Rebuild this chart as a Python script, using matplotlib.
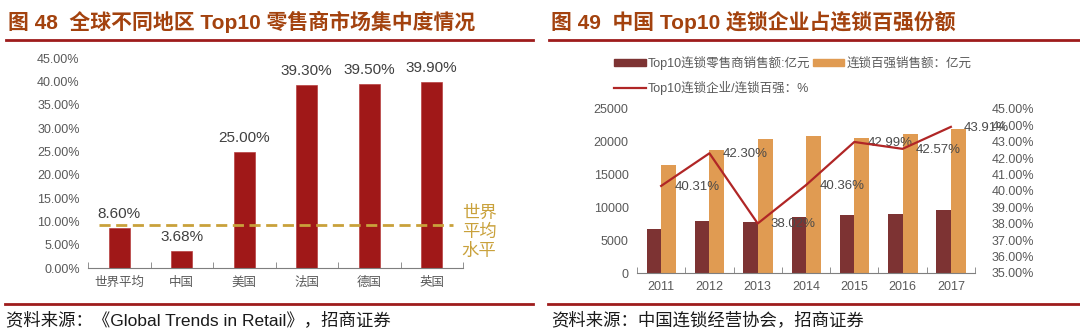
import numpy as np
import matplotlib
matplotlib.use('Agg')
import matplotlib.pyplot as plt
from matplotlib.lines import Line2D
from matplotlib.patches import Patch

plt.rcParams['font.family'] = ['Liberation Sans', 'Noto Sans CJK SC']
plt.rcParams['axes.unicode_minus'] = False

# 图48 全球不同地区 Top10 零售商市场集中度
regions = ['世界平均', '中国', '美国', '法国', '德国', '英国']
share_top10 = [8.60, 3.68, 25.00, 39.30, 39.50, 39.90]
world_avg_line = 9.3

# 图49 中国 Top10 连锁企业占连锁百强份额
years = ['2011', '2012', '2013', '2014', '2015', '2016', '2017']
top10_sales = [6660, 7920, 7770, 8490, 8840, 8950, 9650]
top100_sales = [16460, 18700, 20380, 20930, 20620, 21180, 21900]
top10_ratio = [40.31, 42.30, 38.02, 40.36, 42.99, 42.57, 43.91]

W, H = 1080, 336
TICK_C = '#595959'
LABEL_C = '#404040'
TITLE_C = '#A3420E'
RULE_C = '#9E1C1C'

fig = plt.figure(figsize=(W / 100, H / 100), dpi=100)


def px_axes(x0, y0, x1, y1):
    return fig.add_axes([x0 / W, 1 - y1 / H, (x1 - x0) / W, (y1 - y0) / H])


def hline(x0, x1, y, lw=2):
    fig.add_artist(Line2D([x0 / W, x1 / W], [1 - y / H, 1 - y / H], color=RULE_C, lw=lw))


def style_axis(ax, n):
    for s in ['top', 'right', 'left']:
        ax.spines[s].set_visible(False)
    ax.spines['bottom'].set_color('#7f7f7f')
    ax.set_xlim(-0.5, n - 0.5)
    ax.set_xticks(np.arange(n))
    ax.set_xticks(np.arange(n + 1) - 0.5, minor=True)
    ax.tick_params(axis='x', which='major', length=0, colors=TICK_C, labelsize=9, pad=6)
    ax.tick_params(axis='x', which='minor', direction='in', length=4, color='#7f7f7f')
    ax.tick_params(axis='y', length=0, colors=TICK_C, labelsize=9, pad=6)


# ---- left: 图48 ----
fig.text(8 / W, 1 - 22 / H, '图 48  全球不同地区 Top10 零售商市场集中度情况',
         fontsize=15, fontweight='bold', color=TITLE_C, va='center', ha='left')
hline(6, 533, 40)

ax1 = px_axes(88, 58.3, 463, 268.3)
x1 = np.arange(len(regions))
ax1.bar(x1, share_top10, width=0.34, color='#A01818', edgecolor='#B84040', lw=0.5, zorder=2)
for xi, v in zip(x1, share_top10):
    ax1.annotate(f'{v:.2f}%', (xi, v), xytext=(0, 5), textcoords='offset points',
                 ha='center', va='bottom', fontsize=11, color=LABEL_C)
ax1.plot([-0.32, 5.34], [world_avg_line, world_avg_line], color='#C9A13B', lw=2,
         dashes=(4, 2), zorder=3)
ax1.annotate('世界\n平均\n水平', (5.5, world_avg_line), xytext=(-1, -5),
             textcoords='offset points', fontsize=12.5, color='#C9A13B',
             family=['Noto Sans CJK SC'], fontweight='medium', ha='left', va='center',
             linespacing=1.05, annotation_clip=False)
ax1.set_ylim(0, 45)
ax1.set_yticks(np.arange(0, 46, 5))
ax1.set_yticklabels([f'{v:.2f}%' for v in np.arange(0, 46, 5)])
ax1.set_xticklabels(regions)
style_axis(ax1, len(regions))

# ---- right: 图49 ----
fig.text(551 / W, 1 - 22 / H, '图 49  中国 Top10 连锁企业占连锁百强份额',
         fontsize=15, fontweight='bold', color=TITLE_C, va='center', ha='left')
hline(549, 1080, 40)

ax2 = px_axes(637, 109, 975, 273)
x2 = np.arange(len(years))
ax2.bar(x2, top10_sales, width=-0.3, align='edge', color='#7D3333', zorder=2)
ax2.bar(x2, top100_sales, width=0.31, align='edge', color='#E09B52', zorder=2)
ax2.set_ylim(0, 25000)
ax2.set_yticks(np.arange(0, 25001, 5000))
ax2.set_xticklabels(years)
style_axis(ax2, len(years))

ax3 = ax2.twinx()
ax3.plot(x2, top10_ratio, color='#B02626', lw=1.6, zorder=4)
for xi, v in zip(x2, top10_ratio):
    ax3.annotate(f'{v:.2f}%', (xi, v), xytext=(9.5, -0.5), textcoords='offset points',
                 ha='left', va='center', fontsize=9.5, color='#4a4a4a')
ax3.set_ylim(35, 45)
ax3.set_yticks(np.arange(35, 45.1, 1))
ax3.set_yticklabels([f'{v:.2f}%' for v in np.arange(35, 45.1, 1)])
for s in ['top', 'right', 'left', 'bottom']:
    ax3.spines[s].set_visible(False)
ax3.tick_params(axis='y', length=0, colors=TICK_C, labelsize=9, pad=12)

handles = [Patch(color='#7D3333'), Line2D([], [], color='#B02626', lw=1.6),
           Patch(color='#E09B52')]
labels = ['Top10连锁零售商销售额:亿元', 'Top10连锁企业/连锁百强：%', '连锁百强销售额：亿元']
leg = fig.legend(handles, labels, loc='upper left', bbox_to_anchor=(608 / W, 1 - 50 / H),
                 ncol=2, frameon=False, fontsize=9, handlelength=2.5, handleheight=0.5,
                 handletextpad=0.2, columnspacing=0.2, labelspacing=0.85, borderpad=0)
for t in leg.get_texts():
    t.set_color(TICK_C)

# ---- 资料来源 ----
hline(5, 533, 304)
hline(548, 1080, 304)
fig.text(6 / W, 1 - 320 / H, '资料来源：《Global Trends in Retail》，招商证券',
         fontsize=12.5, color='#1a1a1a', va='center', ha='left')
fig.text(551 / W, 1 - 320 / H, '资料来源：中国连锁经营协会，招商证券',
         fontsize=12.5, color='#1a1a1a', va='center', ha='left')

fig.savefig('out.png', dpi=100)
